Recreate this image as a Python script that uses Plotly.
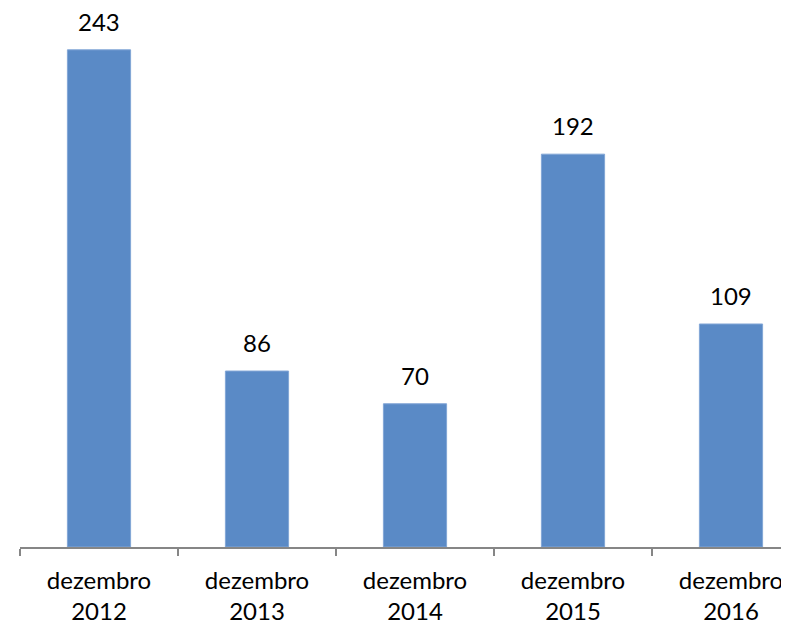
import plotly.graph_objects as go

categories = ["dezembro<br>2012", "dezembro<br>2013", "dezembro<br>2014", "dezembro<br>2015", "dezembro<br>2016"]
values = [243, 86, 70, 192, 109]

FONT = "Lato"
fig = go.Figure()
fig.add_trace(go.Bar(
    x=categories, y=values,
    width=0.4,
    marker=dict(color="#5A8AC6", line=dict(color="#82A6D6", width=1)),
    hoverinfo="skip",
))
for c, v in zip(categories, values):
    fig.add_annotation(x=c, y=v, text=str(v), showarrow=False,
                       yanchor="bottom", yshift=12,
                       font=dict(family=FONT, size=24, color="#000000"))

# page body has an 8px margin, so the figure is sized to fill the rest
fig.update_layout(
    width=781, height=617,
    margin=dict(l=12, r=0, t=0, b=78),
    paper_bgcolor="white", plot_bgcolor="white",
    showlegend=False,
    font=dict(family=FONT, size=24, color="#000000"),
    xaxis=dict(
        type="category",
        range=[-0.5, -0.5 + 769 / 158],
        showline=True, linecolor="#868686", linewidth=1.5,
        ticks="outside", tickson="boundaries", ticklen=7, tickcolor="#868686", tickwidth=1.5,
        ticklabelstandoff=11,
        showgrid=False, zeroline=False,
        tickfont=dict(family=FONT, size=24, color="#000000"),
    ),
    yaxis=dict(visible=False, range=[0, 539 / 2.046], showgrid=False, zeroline=False),
)
fig.write_html("out.html")
